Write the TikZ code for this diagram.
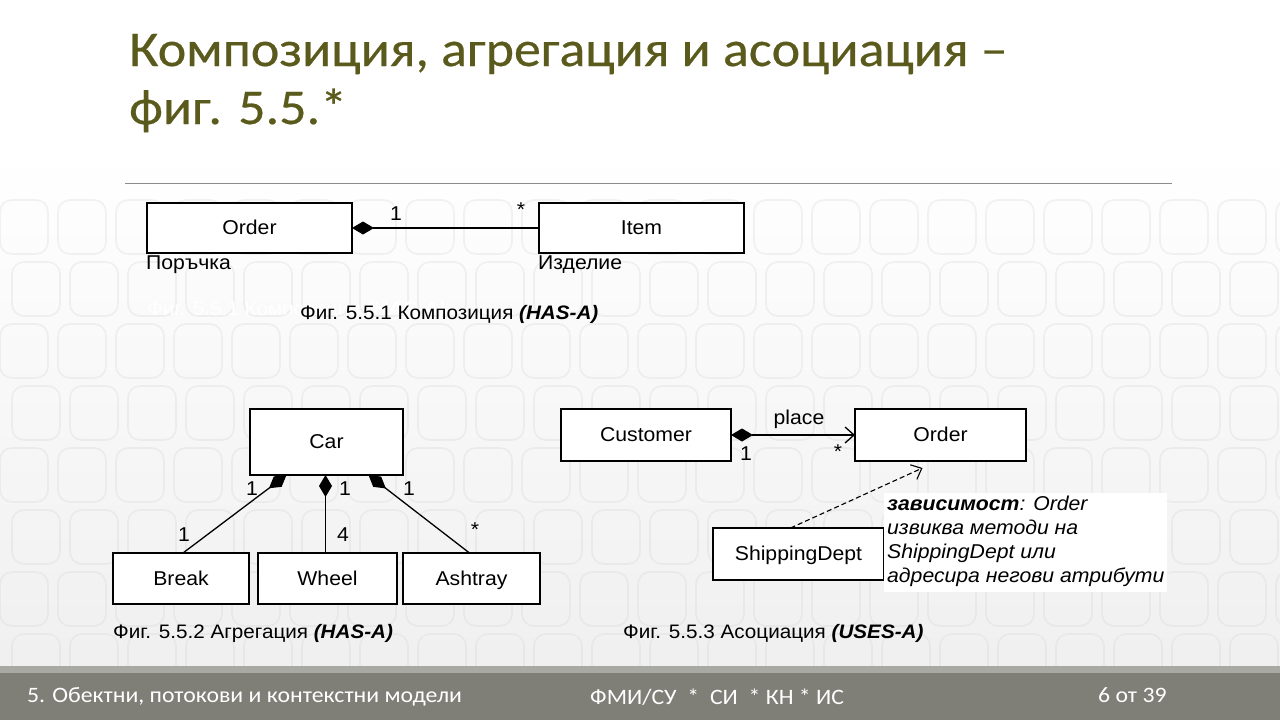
\documentclass[tikz,border=0pt]{standalone}
\usepackage{fontspec}
\setmainfont[FakeStretch=1.06]{Liberation Sans}
\newfontfamily\titlefont[FakeStretch=1.08,FakeBold=0.4]{Carlito}
\newfontfamily\footfont[FakeStretch=1.08]{Carlito}
\usetikzlibrary{arrows.meta,calc}
\definecolor{titleolive}{HTML}{5A5A1C}
\definecolor{footband}{HTML}{7F7F78}
\definecolor{footstrip}{HTML}{A9A9A4}
\definecolor{rulegray}{HTML}{8C8C8C}
\definecolor{scale}{HTML}{D2D2D2}
\begin{document}
\begin{tikzpicture}[x=1pt,y=-1pt,
  cls/.style={draw=black,line width=1.3pt,fill=white,inner sep=0pt,outer sep=0pt,
    text height=14.4pt,text depth=1.2pt,font=\fontsize{20}{23}\selectfont},
  lbl/.style={inner sep=0pt,font=\fontsize{20}{22}\selectfont},
  figcap/.style={inner sep=0pt,anchor=west,font=\fontsize{19.5}{22}\selectfont},
  conn/.style={line width=1.3pt},
  comp/.style={conn,{Diamond[length=22pt,width=13pt,fill=black]}-},
  nav/.style={conn,{Diamond[length=22pt,width=13pt,fill=black]}-{Straight Barb[length=9pt,width=16pt,line width=1.3pt]}},
  dep/.style={line width=1.1pt,dash pattern=on 5pt off 3pt,-{Straight Barb[length=9pt,width=16pt,line width=1.1pt]}},
  foot/.style={inner sep=0pt,anchor=west,text=white,font=\footfont\fontsize{22}{26}\selectfont},
  tile/.style={draw=scale,line width=1.6pt,rounded corners=12pt,opacity=0.28}
]
% page and background
\useasboundingbox (0,0) rectangle (1280,720);
\fill[white] (0,0) rectangle (1280,720);
\shade[top color=white,bottom color=gray!12] (0,150) rectangle (1280,666);
% faint scaled texture
\begin{scope}
  \clip (0,190) rectangle (1280,666);
  \foreach \col in {0,...,22} {
    \foreach \row in {0,...,7} {
      \pgfmathsetmacro{\xx}{\col*58+mod(\row,2)*12}
      \pgfmathsetmacro{\yy}{200+\row*62}
      \draw[tile] (\xx,\yy) rectangle ++(48,54);
    }
  }
\end{scope}
% footer band
\fill[footstrip] (0,666) rectangle (1280,673);
\fill[footband] (0,673) rectangle (1280,720);

% title
\node[inner sep=0pt,anchor=base west,text=titleolive,font=\titlefont\fontsize{50}{56}\selectfont]
  (t1) at (129,66) {Композиция, агрегация и асоциация –};
\node[inner sep=0pt,anchor=base west,text=titleolive,font=\titlefont\fontsize{50}{56}\selectfont]
  (t2) at (129,124) {фиг. 5.5.*};
\coordinate (ruleL) at (125,183);
\coordinate (ruleR) at (1172,183);
\draw[rulegray,line width=0.8pt] (ruleL) -- (ruleR);

% --- 5.5.1 composition ---
\node[cls,minimum width=205pt,minimum height=50pt] (ord) at (249.5,228) {Order};
\node[cls,minimum width=205pt,minimum height=50pt] (item) at (641.5,228) {Item};
\draw[comp] (ord.east) -- (item.west);
\node[lbl] (m1) at (396,214) {1};
\node[lbl] (m2) at (521,210) {*};
\node[lbl,anchor=west] (bg1) at (146,265) {Поръчка};
\node[lbl,anchor=west] (bg2) at (538,265) {Изделие};
\node[figcap,text=white] (ghost) at (147,310) {Фиг. 5.5.1 Композиция \textbf{\textit{(HAS-A)}}};
\node[figcap] (cap1) at (300,314) {Фиг. 5.5.1 Композиция \textbf{\textit{(HAS-A)}}};

% --- 5.5.2 aggregation ---
\node[cls,minimum width=153pt,minimum height=66pt] (car) at (326.5,442) {Car};
\node[cls,minimum width=136pt,minimum height=51pt] (brk) at (181,578.5) {Break};
\node[cls,minimum width=139pt,minimum height=51pt] (whl) at (327.5,578.5) {Wheel};
\node[cls,minimum width=137pt,minimum height=51pt] (ash) at (471.5,578.5) {Ashtray};
\draw[comp] ([xshift=-40pt]car.south) -- ([xshift=2pt]brk.north);
\draw[comp] ([xshift=-1pt]car.south) -- ([xshift=-2pt]whl.north);
\draw[comp] ([xshift=42pt]car.south) -- ([xshift=-2pt]ash.north);
\node[lbl] (a1) at (252,489) {1};
\node[lbl] (a2) at (184,535) {1};
\node[lbl] (a3) at (345,489) {1};
\node[lbl] (a4) at (343,535) {4};
\node[lbl] (a5) at (409,489) {1};
\node[lbl] (a6) at (475,530) {*};
\node[figcap] (cap2) at (113,633) {Фиг. 5.5.2 Агрегация \textbf{\textit{(HAS-A)}}};

% --- 5.5.3 association ---
\node[cls,minimum width=170pt,minimum height=52pt] (cust) at (646,435) {Customer};
\node[cls,minimum width=171pt,minimum height=52pt] (ord2) at (940.5,435) {Order};
\node[cls,minimum width=171pt,minimum height=52pt] (ship) at (798.5,554) {ShippingDept};
\draw[nav] (cust.east) -- (ord2.west);
\node[lbl] (pl) at (799,419) {place};
\node[lbl] (c1) at (746,454) {1};
\node[lbl] (c2) at (838,452) {*};
\draw[dep] ([xshift=-8pt]ship.north) -- ([xshift=-18pt,yshift=-7pt]ord2.south);
\node[fill=white,inner sep=0pt,minimum width=283pt,minimum height=99pt] (note) at (1025.5,542.5) {};
\node[inner sep=0pt,anchor=north west,align=left,
  font=\itshape\fontsize{20}{24}\selectfont] (notetext) at (887,496)
  {\textbf{зависимост}: Order\\извиква методи на\\ShippingDept или\\адресира негови атрибути};
\node[figcap] (cap3) at (623,633) {Фиг. 5.5.3 Асоциация \textbf{\textit{(USES-A)}}};

% footer texts
\node[foot] (f1) at (27,697) {5. Обектни, потокови и контекстни модели};
\node[foot] (f2) at (590,697) {ФМИ/СУ \ *\ \ СИ \ * КН * ИС};
\node[foot] (f3) at (1098,695) {6 от 39};
\end{tikzpicture}
\end{document}
